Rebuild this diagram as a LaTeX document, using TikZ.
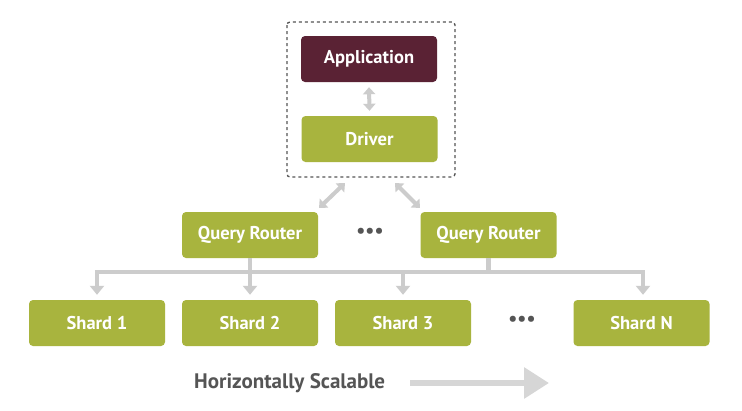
\documentclass[tikz,border=0pt]{standalone}
\usepackage{fontspec}
\setmainfont{PT Sans}
\usetikzlibrary{arrows.meta,calc}
\definecolor{olive}{RGB}{168,180,62}
\definecolor{plum}{RGB}{90,34,52}
\definecolor{arrowgray}{RGB}{204,204,204}
\definecolor{textgray}{RGB}{85,85,85}
\begin{document}
\begin{tikzpicture}[x=1pt,y=-1pt,
  box/.style={fill=olive,rounded corners=4pt,minimum width=136pt,minimum height=46pt,
    text=white,font=\bfseries\fontsize{18.5}{22}\selectfont,inner sep=0pt},
  appbox/.style={box,fill=plum},
  conn/.style={draw=arrowgray,line width=4.5pt},
  tip/.style={conn,-{Triangle[length=9pt,width=14pt]}},
  dtip/.style={conn,line width=4pt,{Triangle[length=7pt,width=12pt]}-{Triangle[length=7pt,width=12pt]}},
  dots/.style={text=textgray,font=\bfseries\fontsize{20}{20}\selectfont}]
\useasboundingbox (0,0) rectangle (742,410);
\fill[white] (0,0) rectangle (742,410);
% top group
\node[appbox] (app) at (369,59) {Application};
\node[box] (drv) at (369.5,139) {Driver};
\draw[dashed,draw=textgray,line width=1.3pt,dash pattern=on 3pt off 3pt,rounded corners=3pt]
  (287,22) rectangle (455,177);
\draw[dtip] ($(app.south)+(0,5)$) -- ($(drv.north)+(0,-5)$);
% query routers
\node[box] (qr1) at (250,235) {Query Router};
\node[box] (qr2) at (488.5,235) {Query Router};
\node[dots] (d1) at (370,233) {•••};
\coordinate (gl) at (345,183);
\coordinate (gr) at (395,183);
\coordinate (ql) at (319,208);
\coordinate (qrr) at (420,208);
\draw[dtip] (gl) -- (ql);
\draw[dtip] (gr) -- (qrr);
% shards
\node[box] (s1) at (97,323) {Shard 1};
\node[box] (s2) at (250,323) {Shard 2};
\node[box] (s3) at (403,323) {Shard 3};
\node[box] (sn) at (641.5,323) {Shard N};
\node[dots] (d2) at (522,321) {•••};
% bus
\coordinate (b1) at (97,272);
\coordinate (bn) at (643,272);
\draw[conn] (qr1.south) -- (250,272);
\draw[conn] (qr2.south) -- (488.5,272);
\draw[conn,line cap=butt] ($(b1)+(-2.25,0)$) -- ($(bn)+(2.25,0)$);
\draw[tip] (b1) -- ($(s1.north)+(0,-5)$);
\draw[tip] (250,272) -- ($(s2.north)+(0,-5)$);
\draw[tip] (403,272) -- ($(s3.north)+(0,-5)$);
\draw[tip] (bn) -- ($(sn.north)+(1.5,-5)$);
% scalable
\node[text=textgray,font=\bfseries\fontsize{21}{24}\selectfont,anchor=west,inner sep=0pt] (hs) at (194,383) {Horizontally Scalable};
\coordinate (ha) at (410,383);
\coordinate (hb) at (549,383);
\draw[draw=arrowgray!80!white,line width=6pt,-{Triangle[length=25pt,width=30pt]}] (ha) -- (hb);
\end{tikzpicture}
\end{document}
